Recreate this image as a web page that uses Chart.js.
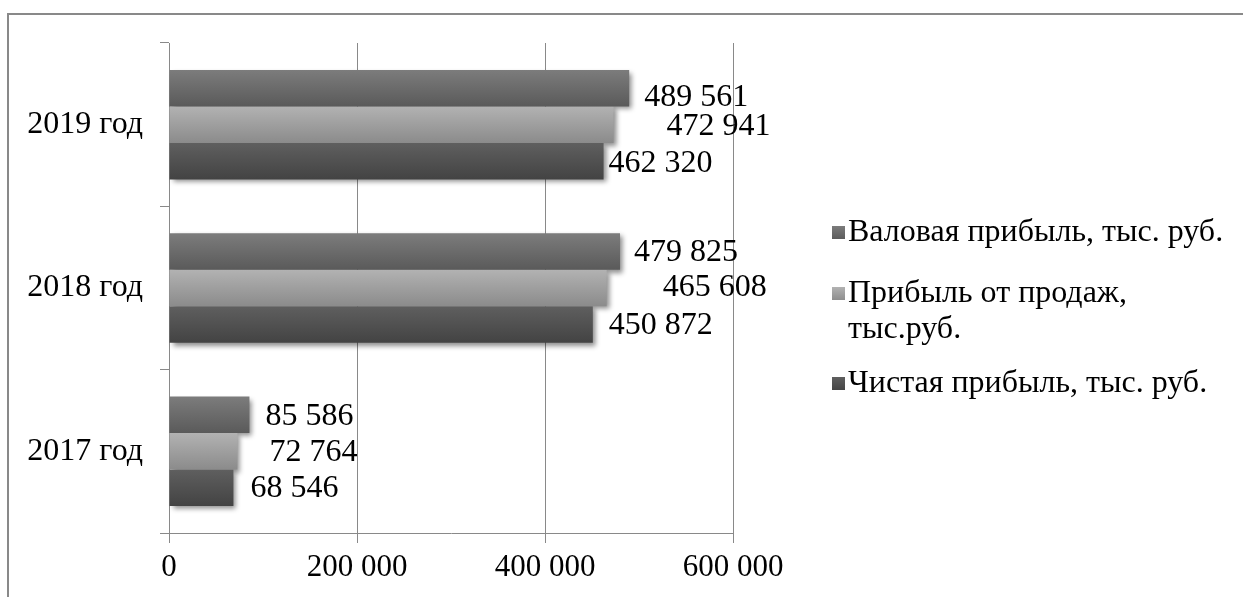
<!DOCTYPE html>
<html>
<head>
<meta charset="utf-8">
<script src="https://cdn.jsdelivr.net/npm/chart.js@4/dist/chart.umd.min.js"></script>
<style>
  body { margin: 0; background: #fff; }
  #wrap { width: 1243px; height: 597px; position: relative; }
</style>
</head>
<body>
<div id="wrap"><canvas id="profitChart" width="1243" height="597"></canvas></div>
<script>
// ─── data ───
const categories  = ['2019 год', '2018 год', '2017 год'];
const grossProfit = [489561, 479825, 85586];   // Валовая прибыль
const salesProfit = [472941, 465608, 72764];   // Прибыль от продаж
const netProfit   = [462320, 450872, 68546];   // Чистая прибыль
const seriesNames = ['Валовая прибыль, тыс. руб.', 'Прибыль от продаж,\nтыс.руб.', 'Чистая прибыль, тыс. руб.'];
const xTicks      = [0, 200000, 400000, 600000];

// label nudges in px [category][series] -> [dx, dy]; the labels in the original were hand-placed
const labelNudge = [
  [[15, 9], [53, 2], [5, 2]],
  [[14, 1], [56, 0], [16, 1]],
  [[16, 2], [32, 1], [17, 1]]
];

const FONT = '"Liberation Serif", "Times New Roman", serif';
const GRID = '#898989';
const CAT_PCT = 0.67;

const shades = [
  ['#7c7c7c', '#5a5a5a'],
  ['#b2b2b2', '#8b8b8b'],
  ['#5f5f5f', '#434343']
];

function fmt(v) {
  return String(v).replace(/\B(?=(\d{3})+(?!\d))/g, ' ');
}

// vertical gradient for each bar, computed from the category scale
function barFill(si) {
  return ctx => {
    const chart = ctx.chart;
    const ys = chart.scales.y;
    if (!ys || ctx.dataIndex === undefined) return shades[si][1];
    const center = ys.getPixelForValue(ctx.dataIndex);
    const band = Math.abs(ys.getPixelForValue(1) - ys.getPixelForValue(0));
    const group = band * CAT_PCT;
    const h = group / 3;
    const top = center - group / 2 + si * h;
    if (!isFinite(top) || !isFinite(h) || h <= 0) return shades[si][1];
    const g = chart.ctx.createLinearGradient(0, top, 0, top + h);
    g.addColorStop(0, shades[si][0]);
    g.addColorStop(1, shades[si][1]);
    return g;
  };
}

/* ─── plugins ─── */
const frame = {
  id: 'frame',
  beforeDraw(chart) {
    const c = chart.ctx;
    c.save();
    c.strokeStyle = GRID;
    c.lineWidth = 2;
    c.beginPath();
    c.moveTo(8, 597);
    c.lineTo(8, 14);
    c.lineTo(1243, 14);
    c.stroke();
    c.restore();
  }
};

// soft drop shadow under the bars, drawn before bars so bars cover it
const barShadow = {
  id: 'barShadow',
  beforeDatasetsDraw(chart) {
    const c = chart.ctx;
    c.save();
    c.shadowColor = 'rgba(0,0,0,0.45)';
    c.shadowBlur = 5;
    c.shadowOffsetX = 10000 + 3;
    c.shadowOffsetY = 3;
    c.fillStyle = '#000';
    chart.data.datasets.forEach((ds, di) => {
      chart.getDatasetMeta(di).data.forEach(el => {
        const p = el.getProps(['x', 'y', 'base', 'height'], true);
        const left = Math.min(p.x, p.base);
        c.fillRect(left - 10000, p.y - p.height / 2, Math.abs(p.x - p.base), p.height);
      });
    });
    c.restore();
  }
};

const valueLabels = {
  id: 'valueLabels',
  afterDatasetsDraw(chart) {
    const c = chart.ctx;
    c.save();
    c.font = '32px ' + FONT;
    c.fillStyle = '#000';
    c.textAlign = 'left';
    c.textBaseline = 'middle';
    chart.data.datasets.forEach((ds, di) => {
      chart.getDatasetMeta(di).data.forEach((el, i) => {
        const p = el.getProps(['x', 'y'], true);
        const [dx, dy] = labelNudge[i][di];
        c.fillText(fmt(ds.data[i]), p.x + dx, p.y + dy);
      });
    });
    c.restore();
  }
};

const sideLegend = {
  id: 'sideLegend',
  afterDraw(chart) {
    const c = chart.ctx;
    const rows = [233, 294, 384];
    const lineH = 36;
    c.save();
    c.font = '32px ' + FONT;
    c.textAlign = 'left';
    c.textBaseline = 'middle';
    chart.data.datasets.forEach((ds, di) => {
      const y = rows[di];
      const g = c.createLinearGradient(0, y - 7, 0, y + 7);
      g.addColorStop(0, shades[di][0]);
      g.addColorStop(1, shades[di][1]);
      c.fillStyle = g;
      c.fillRect(832, y - 7, 13, 13);
      c.fillStyle = '#000';
      ds.label.split('\n').forEach((line, k) => {
        c.fillText(line, 848, y + k * lineH);
      });
    });
    c.restore();
  }
};

/* ─── chart ─── */
function initChart() {
  const ctx = document.getElementById('profitChart').getContext('2d');
  const values = [grossProfit, salesProfit, netProfit];

  new Chart(ctx, {
    type: 'bar',
    data: {
      labels: categories,
      datasets: values.map((arr, si) => ({
        label: seriesNames[si],
        data: arr,
        backgroundColor: barFill(si),
        borderWidth: 0,
        barPercentage: 1,
        categoryPercentage: CAT_PCT
      }))
    },
    options: {
      indexAxis: 'y',
      responsive: false,
      animation: false,
      layout: { padding: { left: 0, top: 43, right: 510, bottom: 0 } },
      plugins: {
        legend:  { display: false },
        tooltip: { enabled: false }
      },
      scales: {
        x: {
          type: 'linear',
          min: xTicks[0],
          max: xTicks[xTicks.length - 1],
          afterBuildTicks: s => { s.ticks = xTicks.map(v => ({ value: v })); },
          afterFit: s => { s.height = 64; },
          grid:   { color: GRID, lineWidth: 1, tickLength: 10, drawTicks: true },
          border: { color: GRID, width: 1 },
          ticks:  { color: '#000', font: { family: FONT, size: 31 }, padding: 6,
                    maxRotation: 0, callback: v => fmt(v) }
        },
        y: {
          type: 'category',
          offset: true,
          afterFit: s => { s.width = 169; },
          grid:   { offset: true, drawOnChartArea: false, color: GRID, lineWidth: 1, tickLength: 9 },
          border: { color: GRID, width: 1 },
          ticks:  { color: '#000', font: { family: FONT, size: 32 }, padding: 17 }
        }
      }
    },
    plugins: [frame, barShadow, valueLabels, sideLegend]
  });
}

document.addEventListener('DOMContentLoaded', initChart);
</script>
</body>
</html>
